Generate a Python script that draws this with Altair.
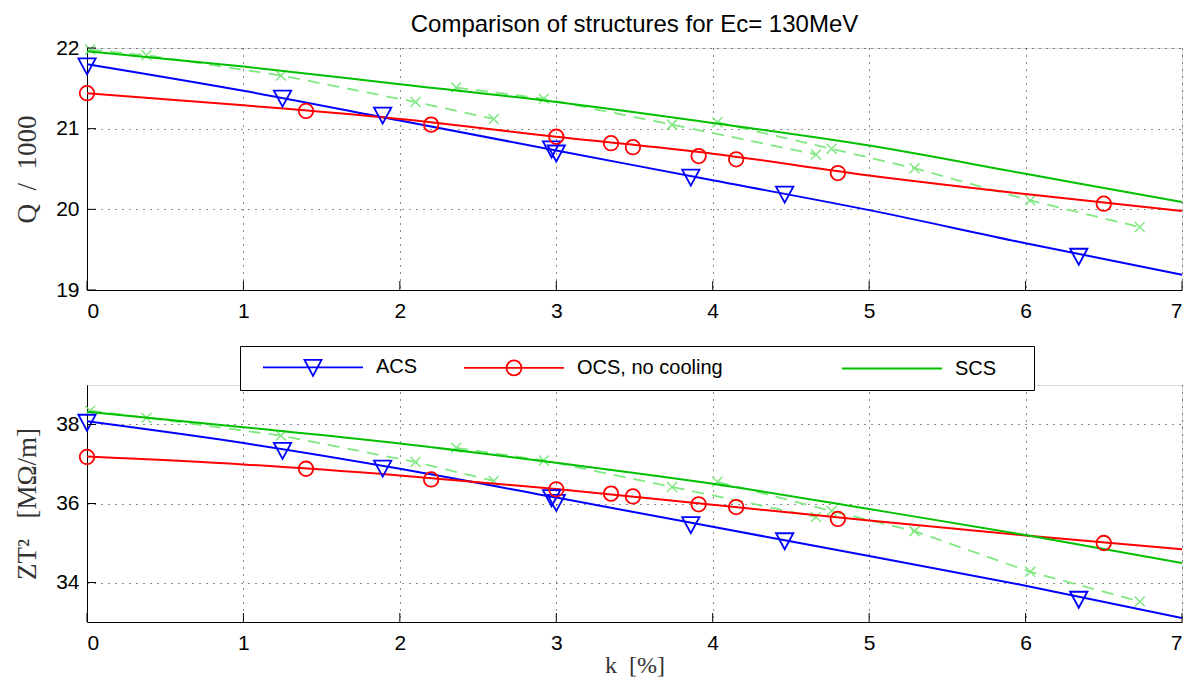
import altair as alt
import pandas as pd

# ---------------- data ----------------
SERIES = ["ACS", "OCS, no cooling", "SCS"]
COLORS = ["#0000ff", "#ff0000", "#00c000"]
X_COLOR = "#80e880"

K_TICKS = [0, 1, 2, 3, 4, 5, 6, 7]
Q_TICKS = [19, 20, 21, 22]
ZT_TICKS = [34, 36, 38]

# fitted curves (solid lines)
K_FIT = [0, 1, 2, 3, 4, 5, 6, 7]
Q_ACS_FIT = [21.80, 21.47, 21.10, 20.73, 20.36, 19.99, 19.58, 19.19]
Q_OCS_FIT = [21.44, 21.29, 21.12, 20.90, 20.69, 20.42, 20.19, 19.98]
Q_SCS_FIT = [21.96, 21.77, 21.55, 21.33, 21.07, 20.79, 20.44, 20.09]
ZT_ACS_FIT = [38.08, 37.53, 36.88, 36.15, 35.41, 34.67, 33.92, 33.10]
ZT_OCS_FIT = [37.19, 36.99, 36.71, 36.37, 35.97, 35.57, 35.19, 34.84]
ZT_SCS_FIT = [38.32, 37.93, 37.52, 37.03, 36.50, 35.86, 35.20, 34.49]

# ACS markers
K_ACS = [0.0, 1.25, 1.89, 2.97, 3.00, 3.86, 4.46, 6.34]
Q_ACS = [21.78, 21.38, 21.17, 20.75, 20.70, 20.40, 20.19, 19.42]
ZT_ACS = [38.06, 37.35, 36.90, 36.15, 36.03, 35.47, 35.06, 33.58]

# OCS markers
K_OCS = [0.0, 1.40, 2.20, 3.00, 3.35, 3.49, 3.91, 4.15, 4.80, 6.50]
Q_OCS = [21.44, 21.22, 21.05, 20.90, 20.82, 20.77, 20.66, 20.62, 20.45, 20.07]
ZT_OCS = [37.18, 36.88, 36.61, 36.36, 36.25, 36.18, 35.98, 35.91, 35.61, 35.00]

# single-cell points (light green dashed with crosses)
K_X = [0.02, 0.38, 1.24, 2.10, 2.60, 2.36, 2.92, 3.74, 4.66, 4.03, 4.76, 5.29, 6.03, 6.73]
GROUP_X = [1, 1, 1, 1, 1, 2, 2, 2, 2, 3, 3, 3, 3, 3]
Q_X = [21.98, 21.91, 21.66, 21.33, 21.12, 21.51, 21.37, 21.05, 20.68, 21.08, 20.75, 20.51, 20.11, 19.78]
ZT_X = [38.35, 38.17, 37.72, 37.05, 36.57, 37.41, 37.09, 36.42, 35.66, 36.55, 35.81, 35.30, 34.27, 33.52]

# ---------------- styling ----------------
TRI = "M-1,-0.85L1,-0.85L0,1Z"
XPATH = "M-1,-1L1,1M-1,1L1,-1"
LEG_PATHS = [
    "M0.2,0L10.2,0M4.35,-0.75L6.05,-0.75L5.2,0.85Z",
    "M0.2,0L10.2,0M5.95,0A0.75,0.75,0,1,1,4.45,0A0.75,0.75,0,1,1,5.95,0",
    "M0.2,0L10.2,0",
]
NB = "\u00a0"
ZW = "\u200b"
W = 1095
SANS = "Liberation Sans"
SERIF = "Liberation Serif"


def panel(fits, acs_y, ocs_y, x_y, domain, yticks, ytitle, height, xtitle, xlabpad, with_legend):
    xs = alt.Scale(domain=[0, 7], nice=False, zero=False)
    ys = alt.Scale(domain=domain, nice=False, zero=False)
    xax = alt.Axis(values=K_TICKS, format="d", grid=True, ticks=False,
                   labelPadding=xlabpad, labelFont=SANS, labelFontSize=21,
                   labelColor="black", domainColor="black", domainWidth=1,
                   gridColor="black", gridDash=[1, 6], gridOpacity=0.9,
                   title=xtitle, titleFont=SERIF, titleFontSize=24,
                   titleFontWeight="normal", titleColor="#333", titlePadding=0)
    yax = alt.Axis(values=yticks, format="d", grid=True, ticks=False,
                   labelPadding=8, labelFont=SANS, labelFontSize=21,
                   labelColor="black", domainColor="black", domainWidth=1,
                   gridColor="black", gridDash=[1, 6], gridOpacity=0.9,
                   title=ytitle, titleFont=SERIF, titleFontSize=27,
                   titleFontWeight="normal", titleColor="#333", titlePadding=14)
    X = alt.X("k:Q", scale=xs, axis=xax)
    Y = alt.Y("v:Q", scale=ys, axis=yax)

    df_x = pd.DataFrame({"k": K_X, "v": x_y, "g": GROUP_X, "i": list(range(len(K_X)))})
    layers = [
        alt.Chart(df_x).mark_line(strokeDash=[12, 8], strokeWidth=1.8, color=X_COLOR).encode(
            x=X, y=Y, detail="g:N", order="i:Q"),
        alt.Chart(df_x).mark_point(shape=XPATH, size=100, filled=False, strokeWidth=1.5,
                                   color=X_COLOR, opacity=1).encode(x=X, y=Y),
    ]
    for vals, col in zip(fits, COLORS):
        layers.append(alt.Chart(pd.DataFrame({"k": K_FIT, "v": vals})).mark_line(
            strokeWidth=2, color=col, interpolate="monotone").encode(x=X, y=Y))
    layers += [
        alt.Chart(pd.DataFrame({"k": K_ACS, "v": acs_y})).mark_point(
            shape=TRI, size=300, filled=False, strokeWidth=1.8, color=COLORS[0], opacity=1).encode(x=X, y=Y),
        alt.Chart(pd.DataFrame({"k": K_OCS, "v": ocs_y})).mark_point(
            shape="circle", size=210, filled=False, strokeWidth=1.8, color=COLORS[1], opacity=1).encode(x=X, y=Y),
        alt.Chart(pd.DataFrame({"k": K_TICKS})).mark_rule(color="black", strokeWidth=1).encode(
            x=X, y=alt.value(height), y2=alt.value(height - 9)),
        alt.Chart(pd.DataFrame({"v": yticks})).mark_rule(color="black", strokeWidth=1).encode(
            y=Y, x=alt.value(0), x2=alt.value(9)),
    ]
    if with_legend:
        pads = [6, 19, 5]
        labels = [s + NB * p + ZW for s, p in zip(SERIES, pads)]
        expr = ("datum.label == '%s' ? '%s' : datum.label == '%s' ? '%s' : '%s'"
                % (SERIES[0], labels[0], SERIES[1], labels[1], labels[2]))
        leg = alt.Legend(orient="none", legendX=153, legendY=-39, direction="horizontal",
                         columns=3, title=None, strokeColor="black", fillColor="white",
                         padding=10, symbolSize=400, symbolStrokeWidth=1.8, symbolOpacity=1,
                         symbolFillColor="transparent", labelFont=SANS, labelFontSize=20,
                         labelColor="black", labelOffset=104, columnPadding=0,
                         labelLimit=600, labelExpr=expr, cornerRadius=0)
        legdf = pd.DataFrame({"series": SERIES})
        layers.append(alt.Chart(legdf).mark_point(opacity=0, filled=False).encode(
            x=alt.value(0), y=alt.value(0),
            color=alt.Color("series:N", scale=alt.Scale(domain=SERIES, range=COLORS), legend=leg),
            shape=alt.Shape("series:N", scale=alt.Scale(domain=SERIES, range=LEG_PATHS), legend=leg),
        ))
    return alt.layer(*layers).properties(width=W, height=height)


top = panel([Q_ACS_FIT, Q_OCS_FIT, Q_SCS_FIT], Q_ACS, Q_OCS, Q_X, [19, 22], Q_TICKS,
            "Q" + NB * 2 + "/" + NB * 2 + "1000", 242, None, 10, False).properties(
    title=alt.TitleParams("Comparison of structures for Ec= 130MeV", font=SANS, fontSize=24,
                          fontWeight="normal", color="black", anchor="middle", offset=0))
bottom = panel([ZT_ACS_FIT, ZT_OCS_FIT, ZT_SCS_FIT], ZT_ACS, ZT_OCS, ZT_X, [33, 39], ZT_TICKS,
               "ZT²" + NB * 3 + "[MΩ/m]", 237, "k" + NB * 2 + "[%]", 10, True)

chart = alt.vconcat(top, bottom, spacing=23).resolve_legend(
    color="independent", shape="independent").configure_view(stroke=None).configure(
    background="white", padding={"left": 5, "top": 4, "right": 0, "bottom": 0})

chart.save("out.html", embed_options={"renderer": "svg", "actions": False})
